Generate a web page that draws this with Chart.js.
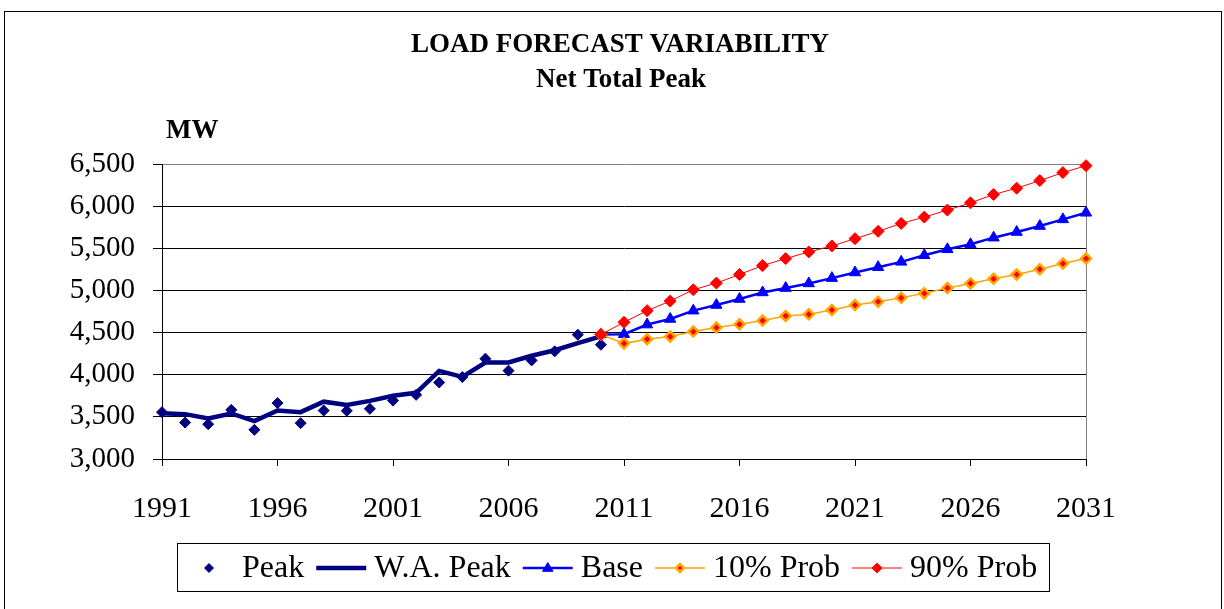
<!DOCTYPE html>
<html>
<head>
<meta charset="utf-8">
<title>Load Forecast Variability</title>
<script src="https://cdn.jsdelivr.net/npm/chart.js@4.4.0/dist/chart.umd.min.js"></script>
<style>
    html, body { margin: 0; padding: 0; background: #fff; }
    #wrap { width: 1224px; height: 609px; position: relative; }
</style>
</head>
<body>
<div id="wrap"><canvas id="loadChart" width="1224" height="609"></canvas></div>
<script>
// historical data (annual)
const histYears = [1991, 1992, 1993, 1994, 1995, 1996, 1997, 1998, 1999, 2000,
                   2001, 2002, 2003, 2004, 2005, 2006, 2007, 2008, 2009, 2010];
const peakValues = [3556, 3432, 3413, 3583, 3346, 3663, 3425, 3575, 3571, 3595,
                    3693, 3761, 3908, 3972, 4190, 4048, 4170, 4277, 4475, 4356];
const waPeakValues = [3544, 3532, 3480, 3540, 3450, 3575, 3556, 3680, 3640, 3690,
                      3750, 3785, 4045, 3975, 4145, 4145, 4225, 4290, 4375, 4455];

// forecast data
const forecastYears = [2010, 2011, 2012, 2013, 2014, 2015, 2016, 2017, 2018, 2019, 2020,
                       2021, 2022, 2023, 2024, 2025, 2026, 2027, 2028, 2029, 2030, 2031];
const baseValues = [4478, 4480, 4595, 4661, 4760, 4827, 4898, 4976, 5028, 5083, 5146,
                    5213, 5276, 5339, 5417, 5488, 5547, 5626, 5693, 5764, 5843, 5921];
const prob10Values = [4478, 4372, 4421, 4453, 4512, 4559, 4598, 4642, 4697, 4717, 4768,
                      4827, 4866, 4913, 4965, 5028, 5083, 5138, 5189, 5252, 5319, 5378];
const prob90Values = [4478, 4622, 4760, 4874, 5008, 5087, 5189, 5295, 5378, 5457, 5528,
                      5614, 5701, 5795, 5870, 5953, 6039, 6138, 6213, 6303, 6398, 6480];

const xTickLabels = [1991, 1996, 2001, 2006, 2011, 2016, 2021, 2026, 2031];
const yTickLabels = [3000, 3500, 4000, 4500, 5000, 5500, 6000, 6500];

const titleText = 'LOAD FORECAST VARIABILITY';
const subtitleText = 'Net Total Peak';
const unitText = 'MW';

const SERIF = '"Liberation Serif", "Times New Roman", serif';

function pairs(xs, ys) {
    return xs.map((x, i) => ({ x: x, y: ys[i] }));
}

function drawMarker(ctx, style, x, y, r, fill, stroke, bw) {
    ctx.beginPath();
    if (style === 'triangle') {
        ctx.moveTo(x, y - r);
        ctx.lineTo(x + r * 0.95, y + r * 0.6);
        ctx.lineTo(x - r * 0.95, y + r * 0.6);
    } else {
        ctx.moveTo(x, y - r);
        ctx.lineTo(x + r, y);
        ctx.lineTo(x, y + r);
        ctx.lineTo(x - r, y);
    }
    ctx.closePath();
    ctx.fillStyle = fill;
    ctx.fill();
    if (bw) {
        ctx.strokeStyle = stroke;
        ctx.lineWidth = bw;
        ctx.stroke();
    }
}

// frame, titles and the boxed legend
const decorPlugin = {
    id: 'decor',
    afterDraw(chart) {
        const ctx = chart.ctx;
        ctx.save();
        ctx.strokeStyle = '#000';
        ctx.lineWidth = 1;
        ctx.strokeRect(4.5, 11.5, 1217, 640);

        ctx.fillStyle = '#000';
        ctx.textBaseline = 'middle';
        ctx.textAlign = 'center';
        ctx.font = 'bold 27px ' + SERIF;
        ctx.fillText(titleText, 620, 45);
        ctx.fillText(subtitleText, 621, 80);
        ctx.textAlign = 'left';
        ctx.fillText(unitText, 166, 131);

        // legend
        const boxL = 177, boxT = 543, boxR = 1049, boxB = 591;
        ctx.strokeStyle = '#000';
        ctx.lineWidth = 1;
        ctx.strokeRect(boxL + 0.5, boxT + 0.5, boxR - boxL, boxB - boxT);
        ctx.font = '32px ' + SERIF;
        ctx.textAlign = 'left';
        const cy = (boxT + boxB) / 2 + 1;
        let x = boxL + 7;
        chart.data.datasets.forEach(ds => {
            const sw = 50;
            if (ds.showLine !== false) {
                ctx.beginPath();
                ctx.moveTo(x, cy);
                ctx.lineTo(x + sw, cy);
                ctx.strokeStyle = ds.borderColor;
                ctx.lineWidth = ds.borderWidth;
                ctx.stroke();
            }
            if (ds.pointRadius > 0) {
                drawMarker(ctx, ds.pointStyle, x + sw / 2, cy, ds.pointRadius - 1,
                           ds.pointBackgroundColor, ds.pointBorderColor, ds.pointBorderWidth);
            }
            x += sw + 8;
            ctx.fillStyle = '#000';
            ctx.fillText(ds.label, x, cy + 1);
            x += ctx.measureText(ds.label).width + 12;
        });
        ctx.restore();
    }
};

const ctx = document.getElementById('loadChart').getContext('2d');
new Chart(ctx, {
    type: 'line',
    data: {
        datasets: [
            {
                label: 'Peak',
                data: pairs(histYears, peakValues),
                showLine: false,
                pointStyle: 'rectRot',
                pointRadius: 5.5,
                pointBackgroundColor: '#000080',
                pointBorderColor: '#000080',
                pointBorderWidth: 1,
                borderColor: '#000080',
                order: 4
            },
            {
                label: 'W.A. Peak',
                data: pairs(histYears, waPeakValues),
                borderColor: '#000080',
                borderWidth: 4.5,
                pointRadius: 0,
                order: 5
            },
            {
                label: 'Base',
                data: pairs(forecastYears, baseValues),
                borderColor: '#0000FF',
                borderWidth: 2.5,
                pointStyle: 'triangle',
                pointRadius: 6.5,
                pointBackgroundColor: '#0000FF',
                pointBorderColor: '#0000FF',
                pointBorderWidth: 1,
                order: 3
            },
            {
                label: '10% Prob',
                data: pairs(forecastYears, prob10Values),
                borderColor: '#FFA500',
                borderWidth: 1.5,
                pointStyle: 'rectRot',
                pointRadius: 5,
                pointBackgroundColor: '#FF0000',
                pointBorderColor: '#FFA500',
                pointBorderWidth: 2.5,
                order: 2
            },
            {
                label: '90% Prob',
                data: pairs(forecastYears, prob90Values),
                borderColor: '#FF0000',
                borderWidth: 1,
                pointStyle: 'rectRot',
                pointRadius: 6,
                pointBackgroundColor: '#FF0000',
                pointBorderColor: '#FF0000',
                pointBorderWidth: 1,
                order: 1
            }
        ]
    },
    options: {
        responsive: false,
        animation: false,
        clip: false,
        layout: { padding: { left: 0, right: 138, top: 164, bottom: 0 } },
        plugins: {
            legend: { display: false },
            tooltip: { enabled: false },
            title: { display: false }
        },
        scales: {
            x: {
                type: 'linear',
                min: 1991,
                max: 2031,
                afterBuildTicks: scale => { scale.ticks = xTickLabels.map(v => ({ value: v })); },
                afterFit: scale => { scale.height = 150; },
                ticks: {
                    color: '#000',
                    font: { family: SERIF, size: 30 },
                    padding: 25,
                    maxRotation: 0,
                    callback: v => String(v)
                },
                grid: {
                    color: c => (c.tick && c.tick.value === 2031) ? '#808080' : 'rgba(0,0,0,0)',
                    tickColor: '#000',
                    tickLength: 7,
                    lineWidth: 1
                },
                border: { color: '#000', width: 1 }
            },
            y: {
                min: 3000,
                max: 6500,
                afterBuildTicks: scale => { scale.ticks = yTickLabels.map(v => ({ value: v })); },
                afterFit: scale => { scale.width = 162; },
                ticks: {
                    color: '#000',
                    font: { family: SERIF, size: 29 },
                    padding: 18,
                    callback: v => v.toLocaleString('en-US')
                },
                grid: {
                    color: c => (c.tick && c.tick.value === 6500) ? '#808080' : '#000',
                    tickColor: '#000',
                    tickLength: 9,
                    lineWidth: 1
                },
                border: { color: '#000', width: 1 }
            }
        }
    },
    plugins: [decorPlugin]
});
</script>
</body>
</html>
